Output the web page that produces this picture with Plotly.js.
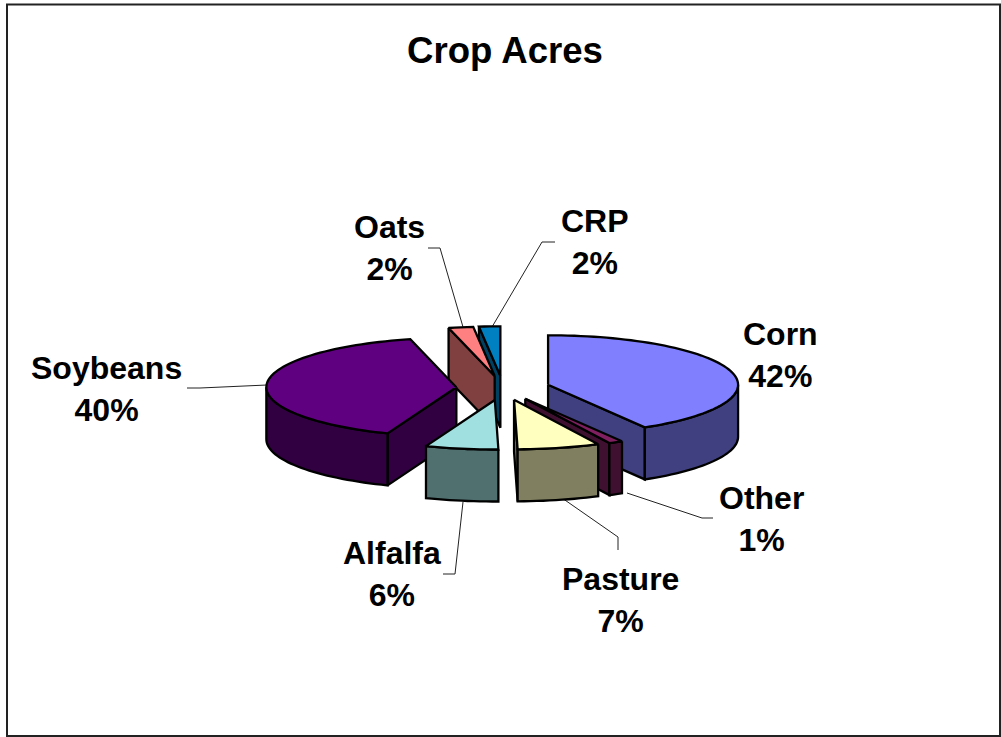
<!DOCTYPE html>
<html>
<head>
<meta charset="utf-8">
<script src="https://cdn.plot.ly/plotly-3.0.1.min.js"></script>
<style>html,body{margin:0;padding:0;background:#fff}#chart{width:1001px;height:737px}</style>
</head>
<body>
<div id="chart"></div>
<script>
// ---- data ----
const categories = ["Corn", "Other", "Pasture", "Alfalfa", "Soybeans", "Oats", "CRP"];
const percents   = [41.5, 1.2, 7.0, 6.2, 40.2, 2.1, 1.8];
const topColors  = ["#8080FF", "#802060", "#FFFFC0", "#A0E0E0", "#5F0080", "#FF8080", "#0080C0"];
const wallColors = ["#404080", "#401030", "#808060", "#507070", "#300040", "#804040", "#004060"];
const paintOrder = ["CRP", "Oats", "Corn", "Soybeans", "Other", "Pasture", "Alfalfa"];

// label placement (centre of each two-line label)
const labelX = [780, 761, 620, 392, 106, 389, 595];
const labelY = [355, 519, 600, 574, 389, 248, 242];

// leader lines
const leaders = {
  Oats:     {x: [428, 440, 463], y: [248, 248, 327]},
  CRP:      {x: [555, 542, 492], y: [242, 242, 327]},
  Other:    {x: [713, 702, 627], y: [518, 518, 493]},
  Pasture:  {x: [618, 618, 562], y: [550, 537, 498]},
  Alfalfa:  {x: [463, 455, 443], y: [502, 574, 574]},
  Soybeans: {x: [187, 200, 267], y: [388, 388, 385]}
};

// projection of the tilted pie
const centerX = 503, centerY = 388, radiusX = 190, radiusY = 49.5, depth = 52, explode = 0.246;

const total = percents.reduce((a, b) => a + b, 0);
const rad = d => d * Math.PI / 180;
let cum = 0;
const slices = {};
categories.forEach((c, i) => {
  const a0 = cum / total * 360;
  cum += percents[i];
  const a1 = cum / total * 360;
  const m = (a0 + a1) / 2;
  slices[c] = {
    a0, a1,
    ax: centerX + explode * radiusX * Math.sin(rad(m)),
    ay: centerY - explode * radiusY * Math.cos(rad(m)),
    top: topColors[i], wall: wallColors[i], pct: Math.round(percents[i])
  };
});
const rimPt = (s, a) => [s.ax + radiusX * Math.sin(rad(a)), s.ay - radiusY * Math.cos(rad(a))];

function face(xs, ys, color, name, pct) {
  return {
    type: "scatter", mode: "lines", x: xs, y: ys, fill: "toself", fillcolor: color,
    line: {color: "#000", width: 2.3, simplify: false}, showlegend: false,
    name: name, text: name + " " + pct + "%", hoverinfo: "text", hoveron: "fills"
  };
}

const traces = [];
Object.keys(leaders).forEach(k => {
  traces.push({type: "scatter", mode: "lines", x: leaders[k].x, y: leaders[k].y,
    line: {color: "#222", width: 1}, showlegend: false, hoverinfo: "skip"});
});

paintOrder.forEach(c => {
  const s = slices[c];
  const n = Math.max(3, Math.ceil((s.a1 - s.a0) / 2));
  const arc = [];
  for (let i = 0; i <= n; i++) arc.push(s.a0 + (s.a1 - s.a0) * i / n);

  // start radial wall
  if (Math.sin(rad(s.a0)) < -1e-6) {
    const p = rimPt(s, s.a0);
    traces.push(face([s.ax, p[0], p[0], s.ax, s.ax], [s.ay, p[1], p[1] + depth, s.ay + depth, s.ay], s.wall, c, s.pct));
  }
  // end radial wall
  if (Math.sin(rad(s.a1)) > 1e-6) {
    const p = rimPt(s, s.a1);
    traces.push(face([s.ax, p[0], p[0], s.ax, s.ax], [s.ay, p[1], p[1] + depth, s.ay + depth, s.ay], s.wall, c, s.pct));
  }
  // outer rim wall, only the part turned to the viewer (90..270 degrees)
  const lo = Math.max(s.a0, 90), hi = Math.min(s.a1, 270);
  if (hi > lo) {
    const m = Math.max(2, Math.ceil((hi - lo) / 2));
    const up = [];
    for (let i = 0; i <= m; i++) up.push(rimPt(s, lo + (hi - lo) * i / m));
    const xs = up.map(p => p[0]).concat(up.slice().reverse().map(p => p[0]));
    const ys = up.map(p => p[1]).concat(up.slice().reverse().map(p => p[1] + depth));
    xs.push(xs[0]); ys.push(ys[0]);
    traces.push(face(xs, ys, s.wall, c, s.pct));
  }
  // top face
  const xs = [s.ax], ys = [s.ay];
  arc.forEach(a => { const p = rimPt(s, a); xs.push(p[0]); ys.push(p[1]); });
  xs.push(s.ax); ys.push(s.ay);
  traces.push(face(xs, ys, s.top, c, s.pct));
});

const annotations = categories.map((c, i) => ({
  x: labelX[i], y: labelY[i], xref: "x", yref: "y", xanchor: "center", yanchor: "middle",
  showarrow: false, align: "center",
  text: "<b>" + c + "<br>" + Math.round(percents[i]) + "%</b>",
  font: {family: "Liberation Sans, Arial, sans-serif", size: 32, color: "#000"}
}));

const layout = {
  width: 1001, height: 737,
  margin: {l: 0, r: 0, t: 0, b: 0},
  paper_bgcolor: "#fff", plot_bgcolor: "#fff",
  title: {text: "<b>Crop Acres</b>", x: 505 / 1001, xanchor: "center", y: 1 - 50 / 737, yanchor: "middle",
          font: {family: "Liberation Sans, Arial, sans-serif", size: 36.6, color: "#000"}},
  xaxis: {range: [0, 1001], visible: false, fixedrange: true},
  yaxis: {range: [737, 0], visible: false, fixedrange: true},
  annotations: annotations,
  showlegend: false,
  shapes: [{type: "rect", xref: "x", yref: "y", x0: 7, y0: 4.5, x1: 1000, y1: 736,
            line: {color: "#222", width: 2}, fillcolor: "rgba(0,0,0,0)", layer: "below"}]
};

Plotly.newPlot("chart", traces, layout, {displayModeBar: false, staticPlot: true});
</script>
</body>
</html>
